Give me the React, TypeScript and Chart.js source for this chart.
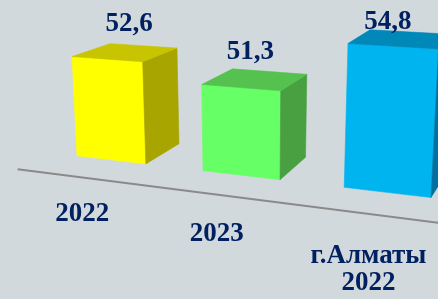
import { useEffect, useRef } from 'react';
import { Chart, registerables } from 'chart.js';

Chart.register(...registerables);

// ---- data ----
const CATEGORIES: (string | string[])[] = ['2022', '2023', ['г.Алматы', '2022']];
const VALUES: number[] = [52.6, 51.3, 54.8];
const AXIS_MIN = 45;
const AXIS_MAX = 60;

// ---- styles ----
const FRONT_COLORS = ['#FFFF00', '#66FF66', '#00B4F0'];
const TOP_COLORS = ['#C8C400', '#55C24F', '#0088B8'];
const SIDE_COLORS = ['#A8A400', '#48A040', '#0070A0'];
const BG_COLOR = '#D1D9DC';
const TEXT_COLOR = '#002060';
const FLOOR_COLOR = '#8A8A8A';
const FONT = 'bold 27px "Liberation Serif", "Times New Roman", serif';
const LINE_HEIGHT = 27;

// ---- 3D view (X: category units, Y: value units above axis min, Z: depth) ----
const VIEW_X = [113.73, -0.909, 44.09, 51.08];
const VIEW_Y = [5.62, -13.1, -9.47, 152.72];
const VIEW_W = [-0.0532, -0.00359, 0.0688, 1];
const BAR_DEPTH = 1;
const FLOOR_Z = -0.78;
const CAT_LABEL_Y = -3.3;

function project(X: number, Y: number, Z: number) {
  const w = VIEW_W[0] * X + VIEW_W[1] * Y + VIEW_W[2] * Z + VIEW_W[3];
  return {
    x: (VIEW_X[0] * X + VIEW_X[1] * Y + VIEW_X[2] * Z + VIEW_X[3]) / w,
    y: (VIEW_Y[0] * X + VIEW_Y[1] * Y + VIEW_Y[2] * Z + VIEW_Y[3]) / w,
  };
}

function poly(ctx: CanvasRenderingContext2D, pts: { x: number; y: number }[], color: string) {
  ctx.beginPath();
  ctx.moveTo(pts[0].x, pts[0].y);
  for (let i = 1; i < pts.length; i++) ctx.lineTo(pts[i].x, pts[i].y);
  ctx.closePath();
  ctx.fillStyle = color;
  ctx.fill();
  ctx.strokeStyle = color;
  ctx.lineWidth = 0.6;
  ctx.stroke();
}

const perspectivePlugin = {
  id: 'perspective3d',
  beforeDraw(chart: any) {
    const { ctx, width, height } = chart;
    ctx.save();
    ctx.fillStyle = BG_COLOR;
    ctx.fillRect(0, 0, width, height);
    ctx.restore();
  },
  afterDatasetsDraw(chart: any) {
    const { ctx, chartArea, scales } = chart;
    const n = chart.data.labels.length;
    const catW = chartArea.width / n;
    const yS = scales.y;
    const basePx = yS.getPixelForValue(AXIS_MIN);
    const unit = basePx - yS.getPixelForValue(AXIS_MIN + 1);
    const toX = (px: number) => (px - chartArea.left) / catW;
    const toY = (py: number) => Math.max(0, (basePx - py) / unit);
    const midX = (chartArea.left + chartArea.right) / 2;

    ctx.save();
    // floor line
    const f0 = project(toX(chartArea.left), 0, FLOOR_Z);
    const f1 = project(toX(chartArea.right), 0, FLOOR_Z);
    ctx.beginPath();
    ctx.moveTo(f0.x, f0.y);
    ctx.lineTo(f1.x, f1.y);
    ctx.strokeStyle = FLOOR_COLOR;
    ctx.lineWidth = 2;
    ctx.stroke();

    const meta = chart.getDatasetMeta(0);
    const values = chart.data.datasets[0].data as number[];
    meta.data.forEach((el: any, i: number) => {
      const p = el.getProps(['x', 'y', 'base', 'width'], true);
      const x0 = toX(p.x - p.width / 2);
      const x1 = toX(p.x + p.width / 2);
      const xc = toX(p.x);
      const y0 = toY(p.base);
      const y1 = toY(p.y);
      const D = BAR_DEPTH;
      poly(ctx, [project(x0, y0, 0), project(x1, y0, 0), project(x1, y1, 0), project(x0, y1, 0)], FRONT_COLORS[i]);
      poly(ctx, [project(x1, y0, 0), project(x1, y0, D), project(x1, y1, D), project(x1, y1, 0)], SIDE_COLORS[i]);
      poly(ctx, [project(x0, y1, 0), project(x1, y1, 0), project(x1, y1, D), project(x0, y1, D)], TOP_COLORS[i]);

      // value label
      ctx.font = FONT;
      ctx.fillStyle = TEXT_COLOR;
      ctx.textAlign = 'center';
      ctx.textBaseline = 'alphabetic';
      const topC = project(xc, y1, D / 2);
      const frontC = project(xc, y1, 0);
      const lx = topC.x - 2.5 - 0.065 * (topC.x - midX);
      const ly = Math.max(frontC.y - 28.4, chartArea.top + 29);
      ctx.fillText(values[i].toFixed(1).replace('.', ','), lx, ly);

      // category label
      const lab = chart.data.labels[i];
      const lines = Array.isArray(lab) ? lab : [lab];
      const a = project(xc, CAT_LABEL_Y, FLOOR_Z);
      lines.forEach((t: string, k: number) => ctx.fillText(t, a.x, a.y + k * LINE_HEIGHT));
    });
    ctx.restore();
  },
};

export default function App() {
  const ref = useRef<HTMLCanvasElement>(null);
  useEffect(() => {
    document.body.style.margin = '0';
    const chart = new Chart(ref.current!, {
      type: 'bar',
      data: {
        labels: CATEGORIES,
        datasets: [
          {
            data: VALUES,
            base: AXIS_MIN,
            backgroundColor: 'rgba(0,0,0,0)',
            borderWidth: 0,
            categoryPercentage: 1,
            barPercentage: 0.56,
          },
        ],
      },
      options: {
        responsive: false,
        animation: false,
        events: [],
        layout: { padding: 0 },
        plugins: { legend: { display: false }, tooltip: { enabled: false } },
        scales: {
          x: { display: false },
          y: { display: false, min: AXIS_MIN, max: AXIS_MAX },
        },
      },
      plugins: [perspectivePlugin],
    });
    return () => chart.destroy();
  }, []);
  return (
    <div style={{ width: 438, height: 299 }}>
      <canvas ref={ref} width={438} height={299} style={{ display: 'block' }} />
    </div>
  );
}
